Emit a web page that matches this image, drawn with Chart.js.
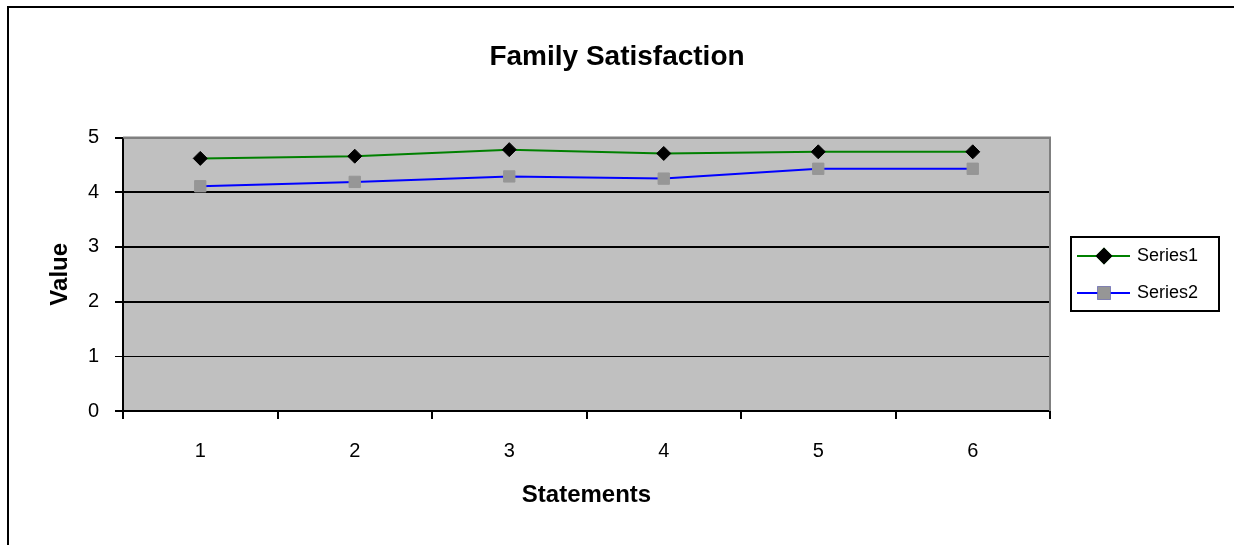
<!DOCTYPE html>
<html>
<head>
<meta charset="utf-8">
<title>Family Satisfaction</title>
<script src="https://cdn.jsdelivr.net/npm/chart.js@4.4.1/dist/chart.umd.min.js"></script>
<style>
  body { margin: 0; background: #fff; }
  canvas { display: block; }
</style>
</head>
<body>
<canvas id="SatChart" width="1234" height="545"></canvas>
<script>
var statements = ['1', '2', '3', '4', '5', '6'];
var series1 = [4.62, 4.66, 4.78, 4.71, 4.74, 4.74];
var series2 = [4.11, 4.19, 4.29, 4.25, 4.43, 4.43];
var series_names = ['Series1', 'Series2'];

Chart.defaults.font.family = "Arial, 'Liberation Sans', sans-serif";
Chart.defaults.color = '#000';

// grey plot area, page frame and the boxed legend on the right
var excelLook = {
  id: 'excelLook',
  beforeDraw: function (chart) {
    var ctx = chart.ctx, a = chart.chartArea;
    ctx.save();
    ctx.fillStyle = '#fff';
    ctx.fillRect(0, 0, chart.width, chart.height);
    ctx.fillStyle = '#c0c0c0';
    ctx.fillRect(a.left, a.top, a.right - a.left, a.bottom - a.top);
    ctx.strokeStyle = '#000';
    ctx.lineWidth = 2;
    ctx.beginPath();
    ctx.moveTo(8, chart.height);
    ctx.lineTo(8, 7);
    ctx.lineTo(chart.width, 7);
    ctx.stroke();
    ctx.restore();
  },
  afterDatasetsDraw: function (chart) {
    var ctx = chart.ctx, a = chart.chartArea;
    ctx.save();
    ctx.strokeStyle = '#808080';
    ctx.lineWidth = 2;
    ctx.beginPath();
    ctx.moveTo(a.left, a.top);
    ctx.lineTo(a.right, a.top);
    ctx.lineTo(a.right, a.bottom);
    ctx.stroke();
    ctx.restore();
  },
  afterDraw: function (chart) {
    var ctx = chart.ctx;
    var bx = 1071, by = 237, bw = 148, bh = 74;
    ctx.save();
    ctx.strokeStyle = '#000';
    ctx.lineWidth = 2;
    ctx.strokeRect(bx, by, bw, bh);
    ctx.font = "18px Arial, 'Liberation Sans', sans-serif";
    ctx.textBaseline = 'middle';
    chart.data.datasets.forEach(function (ds, i) {
      var y = by + 19 + i * 37;
      ctx.strokeStyle = ds.borderColor;
      ctx.lineWidth = 2;
      ctx.beginPath();
      ctx.moveTo(bx + 6, y);
      ctx.lineTo(bx + 59, y);
      ctx.stroke();
      Chart.helpers.drawPoint(ctx, {
        pointStyle: ds.pointStyle,
        radius: ds.pointRadius,
        borderWidth: 1,
        rotation: 0
      }, bx + 33, y);
      ctx.fillStyle = ds.pointBackgroundColor;
      ctx.strokeStyle = ds.pointBorderColor;
      ctx.fill();
      ctx.stroke();
      ctx.fillStyle = '#000';
      ctx.fillText(ds.label, bx + 66, y);
    });
    ctx.restore();
  }
};

var ctx = document.getElementById('SatChart').getContext('2d');
var SatChart = new Chart(ctx, {
  type: 'line',
  data: {
    labels: statements,
    datasets: [{
      label: series_names[0],
      data: series1,
      borderColor: '#008000',
      borderWidth: 2,
      pointStyle: 'rectRot',
      pointRadius: 7,
      pointBackgroundColor: '#000',
      pointBorderColor: '#000',
      pointBorderWidth: 1,
      tension: 0
    }, {
      label: series_names[1],
      data: series2,
      borderColor: '#0000ff',
      borderWidth: 2,
      pointStyle: 'rect',
      pointRadius: 8,
      pointBackgroundColor: '#969696',
      pointBorderColor: '#969696',
      pointBorderWidth: 1,
      tension: 0
    }]
  },
  options: {
    responsive: false,
    animation: false,
    layout: { padding: 0 },
    plugins: {
      legend: { display: false },
      tooltip: { enabled: false },
      title: {
        display: true,
        text: 'Family Satisfaction',
        font: { size: 28, weight: 'bold' },
        color: '#000',
        padding: { top: 40, bottom: 64 }
      }
    },
    scales: {
      x: {
        offset: true,
        grid: {
          offset: true,
          drawOnChartArea: false,
          color: '#000',
          lineWidth: 2,
          tickLength: 8
        },
        border: { color: '#000', width: 2 },
        ticks: { font: { size: 20 }, padding: 20, color: '#000' },
        title: {
          display: true,
          text: 'Statements',
          font: { size: 24, weight: 'bold' },
          color: '#000',
          padding: { top: 0, bottom: 35 }
        },
        afterFit: function (s) { s.height = 134; }
      },
      y: {
        min: 0,
        max: 5,
        ticks: { stepSize: 1, font: { size: 20 }, padding: 16, color: '#000' },
        grid: {
          color: function (c) { return c.tick && c.tick.value === 5 ? '#808080' : '#000'; },
          lineWidth: function (c) { return c.tick && c.tick.value === 1 ? 1 : 2; },
          tickColor: '#000',
          tickLength: 8
        },
        border: { color: '#000', width: 2 },
        title: {
          display: true,
          text: 'Value',
          font: { size: 24, weight: 'bold' },
          color: '#000',
          padding: { top: 46, bottom: 0 }
        },
        afterFit: function (s) { s.width = 123; }
      },
      side: {
        position: 'right',
        display: true,
        grid: { display: false },
        border: { display: false },
        ticks: { display: false },
        afterFit: function (s) { s.width = 184; }
      }
    }
  },
  plugins: [excelLook]
});
</script>
</body>
</html>
